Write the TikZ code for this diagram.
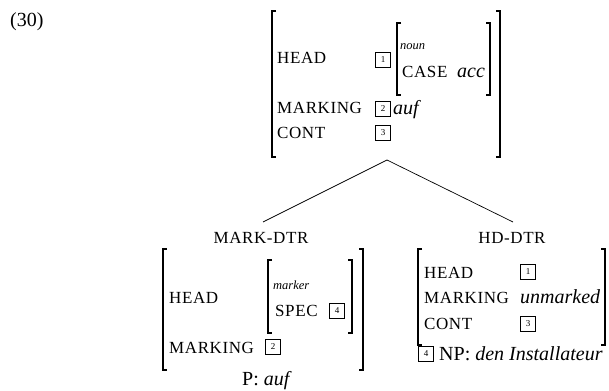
\documentclass[tikz,border=0pt]{standalone}
\usepackage{fontspec}
\setmainfont{Liberation Serif}[ItalicFont={Liberation Serif Italic}]
\newfontfamily\labfont[LetterSpace=3.5]{Liberation Serif}
\begin{document}
\begin{tikzpicture}[x=1pt,y=-1pt,
  lbl/.style={font=\fontsize{17}{17}\selectfont\labfont, anchor=base west, inner sep=0},
  val/.style={font=\fontsize{20}{20}\selectfont\itshape, anchor=base west, inner sep=0},
  rom/.style={font=\fontsize{20}{20}\selectfont, anchor=base west, inner sep=0},
  typ/.style={font=\fontsize{12.5}{12.5}\selectfont\itshape, anchor=base west, inner sep=0},
  tag/.style={draw, line width=0.6pt, minimum size=15pt, inner sep=0, font=\fontsize{9}{9}\selectfont},
  brk/.style={line width=1.1pt},
  edge/.style={line width=0.7pt}]
\useasboundingbox (0,0) rectangle (609,390);
% example number
\node[rom] (num) at (10,27) {(30)};
% top AVM
\draw[brk] (276,11) -- (272,11) -- (272,157) -- (276,157);
\draw[brk] (496,11) -- (500,11) -- (500,157) -- (496,157);
\node[lbl] (tHead) at (277,64) {HEAD};
\node[tag] (tTag1) at (383,60) {1};
\draw[brk] (401,23) -- (397,23) -- (397,95) -- (401,95);
\draw[brk] (486,23) -- (490,23) -- (490,95) -- (486,95);
\node[typ] (tNoun) at (400,50) {noun};
\node[lbl] (tCase) at (402,78) {CASE};
\node[val] (tAcc) at (457,78) {acc};
\node[lbl] (tMark) at (277,114) {MARKING};
\node[tag] (tTag2) at (383,109) {2};
\node[val] (tAuf) at (393,115) {auf};
\node[lbl] (tCont) at (277,139) {CONT};
\node[tag] (tTag3) at (383,133) {3};
% tree
\coordinate (apex) at (387,160);
\coordinate (lend) at (263,222);
\coordinate (rend) at (513,222);
\draw[edge] (lend) -- (apex) -- (rend);
% left daughter
\node[lbl, anchor=base] (mdtr) at (261,243) {MARK-DTR};
\draw[brk] (167,249) -- (163,249) -- (163,370) -- (167,370);
\draw[brk] (359,249) -- (363,249) -- (363,370) -- (359,370);
\node[lbl] (lHead) at (169,303) {HEAD};
\draw[brk] (272,260) -- (268,260) -- (268,333) -- (272,333);
\draw[brk] (348,260) -- (352,260) -- (352,333) -- (348,333);
\node[typ] (lMarker) at (273,289) {marker};
\node[lbl] (lSpec) at (275,316) {SPEC};
\node[tag] (lTag4) at (337,311) {4};
\node[lbl] (lMark) at (169,353) {MARKING};
\node[tag] (lTag2) at (273,347) {2};
\node[rom, anchor=base] (lP) at (267,385) {P: \textit{auf}};
% right daughter
\node[lbl, anchor=base] (hdtr) at (512,243) {HD-DTR};
\draw[brk] (422,249) -- (418,249) -- (418,345) -- (422,345);
\draw[brk] (601,249) -- (605,249) -- (605,345) -- (601,345);
\node[lbl] (rHead) at (424,278) {HEAD};
\node[tag] (rTag1) at (528,272) {1};
\node[lbl] (rMark) at (424,303) {MARKING};
\node[val] (rUnm) at (520,303) {unmarked};
\node[lbl] (rCont) at (424,329) {CONT};
\node[tag] (rTag3) at (528,324) {3};
\node[tag] (rTag4) at (426,354) {4};
\node[rom] (rNP) at (439,360) {NP: \textit{den Installateur}};
\end{tikzpicture}
\end{document}
